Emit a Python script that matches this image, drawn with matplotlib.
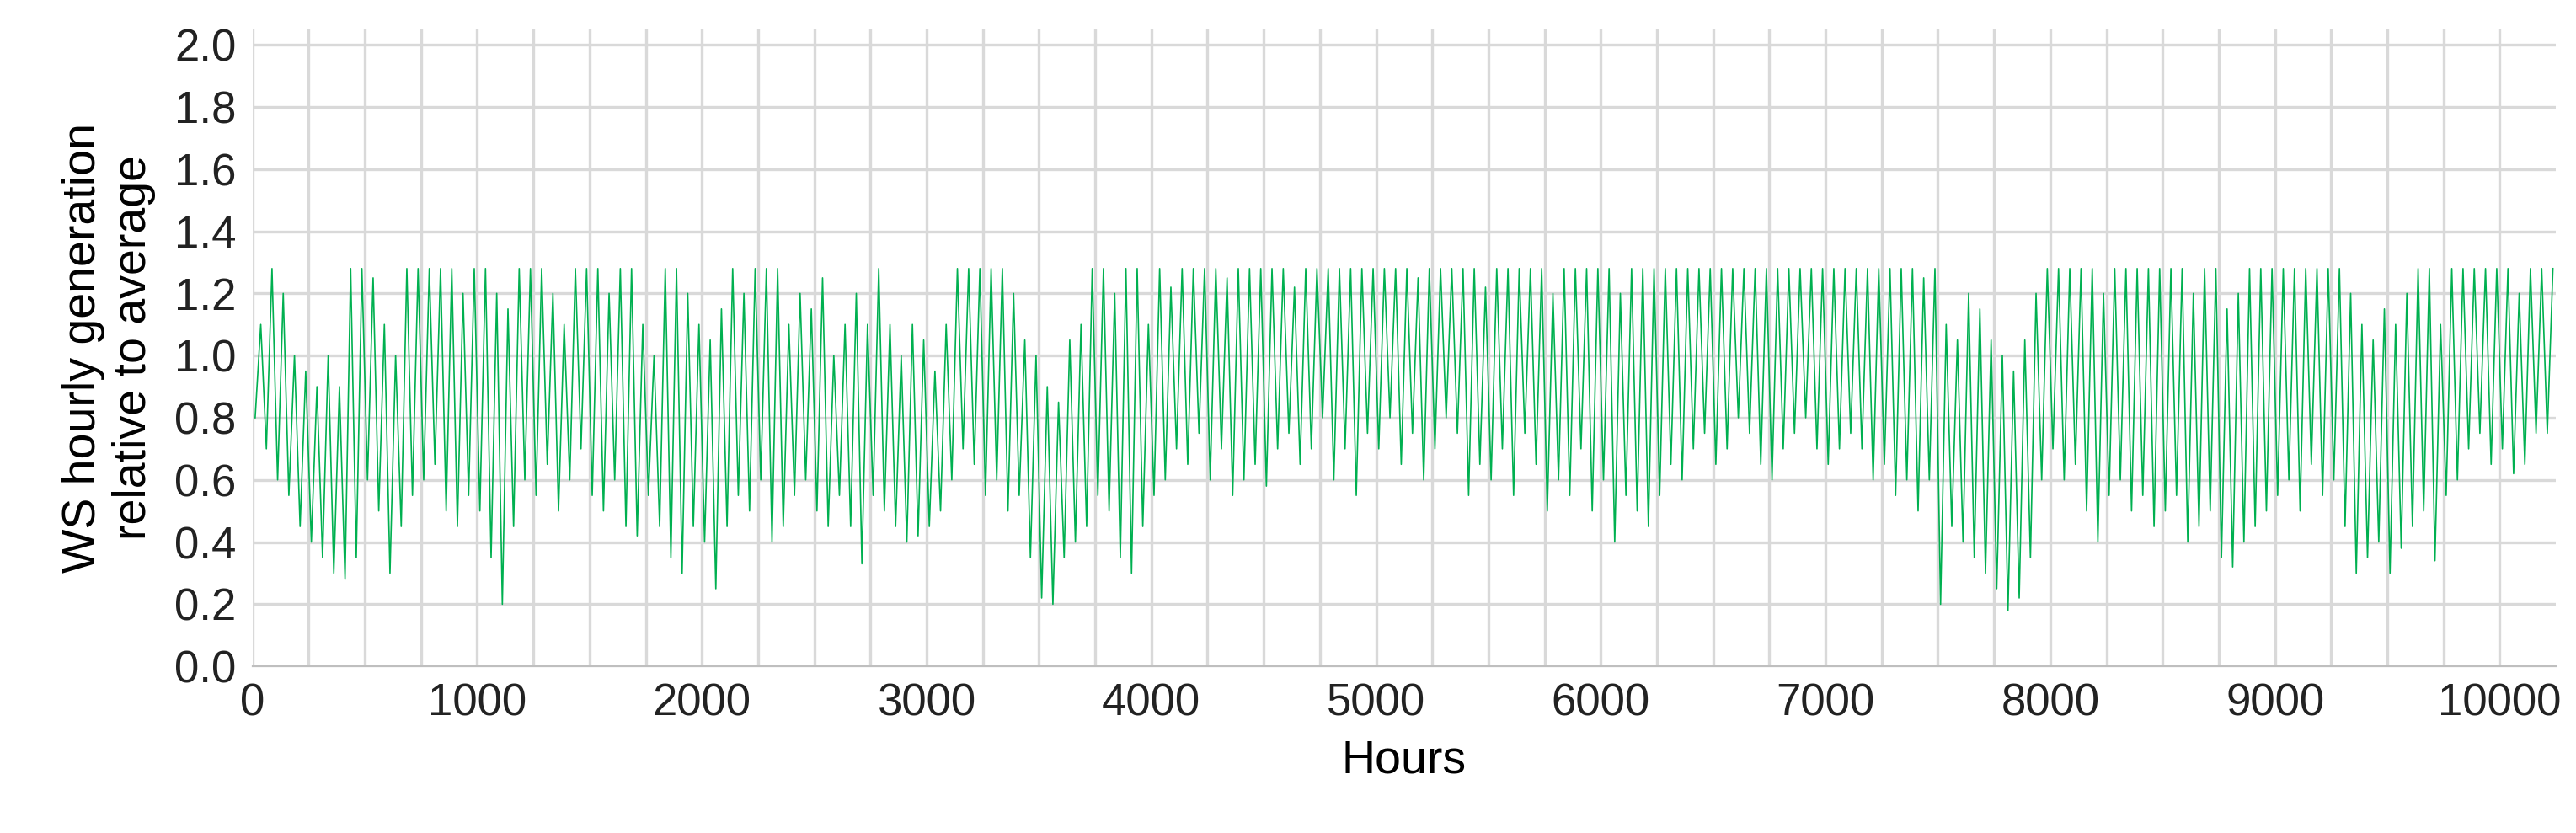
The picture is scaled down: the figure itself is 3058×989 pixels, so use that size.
import matplotlib
matplotlib.use("Agg")
import matplotlib.pyplot as plt
import numpy as np

# daily-ish troughs and peaks, one pair per 50-hour block
block_hours = 50
lows = [
    0.80, 0.70, 0.60, 0.55, 0.45, 0.40, 0.35, 0.30, 0.28, 0.35, 0.60, 0.50, 0.30, 0.45, 0.55, 0.60, 0.65, 0.50, 0.45, 0.55,
    0.50, 0.35, 0.20, 0.45, 0.60, 0.55, 0.65, 0.50, 0.60, 0.70, 0.55, 0.50, 0.60, 0.45, 0.42, 0.55, 0.45, 0.35, 0.30, 0.45,
    0.40, 0.25, 0.45, 0.55, 0.50, 0.60, 0.40, 0.45, 0.55, 0.60, 0.50, 0.45, 0.55, 0.45, 0.33, 0.55, 0.50, 0.45, 0.40, 0.42,
    0.45, 0.50, 0.60, 0.70, 0.65, 0.55, 0.60, 0.50, 0.55, 0.35, 0.22, 0.20, 0.35, 0.40, 0.45, 0.55, 0.50, 0.35, 0.30, 0.45,
    0.55, 0.60, 0.70, 0.65, 0.75, 0.60, 0.70, 0.55, 0.60, 0.65, 0.58, 0.70, 0.75, 0.65, 0.70, 0.80, 0.60, 0.70, 0.55, 0.75,
    0.70, 0.80, 0.65, 0.75, 0.60, 0.70, 0.80, 0.75, 0.55, 0.65, 0.60, 0.70, 0.55, 0.75, 0.65, 0.50, 0.60, 0.55, 0.70, 0.50,
    0.60, 0.40, 0.55, 0.50, 0.45, 0.55, 0.65, 0.60, 0.70, 0.75, 0.65, 0.70, 0.80, 0.75, 0.65, 0.60, 0.70, 0.75, 0.80, 0.70,
    0.65, 0.70, 0.75, 0.70, 0.60, 0.65, 0.55, 0.60, 0.50, 0.60, 0.20, 0.45, 0.40, 0.35, 0.30, 0.25, 0.18, 0.22, 0.35, 0.60,
    0.70, 0.60, 0.65, 0.50, 0.40, 0.55, 0.60, 0.50, 0.55, 0.45, 0.50, 0.55, 0.40, 0.45, 0.50, 0.35, 0.32, 0.40, 0.45, 0.50,
    0.55, 0.60, 0.50, 0.65, 0.55, 0.60, 0.45, 0.30, 0.35, 0.40, 0.30, 0.38, 0.45, 0.50, 0.34, 0.55, 0.60, 0.70, 0.75, 0.65,
    0.70, 0.62, 0.65, 0.75, 0.75,
]
highs = [
    1.10, 1.28, 1.20, 1.00, 0.95, 0.90, 1.00, 0.90, 1.28, 1.28, 1.25, 1.10, 1.00, 1.28, 1.28, 1.28, 1.28, 1.28, 1.20, 1.28,
    1.28, 1.20, 1.15, 1.28, 1.28, 1.28, 1.20, 1.10, 1.28, 1.28, 1.28, 1.20, 1.28, 1.28, 1.10, 1.00, 1.28, 1.28, 1.20, 1.10,
    1.05, 1.15, 1.28, 1.20, 1.28, 1.28, 1.28, 1.10, 1.20, 1.15, 1.25, 1.00, 1.10, 1.20, 1.10, 1.28, 1.10, 1.00, 1.10, 1.05,
    0.95, 1.10, 1.28, 1.28, 1.28, 1.28, 1.28, 1.20, 1.05, 1.00, 0.90, 0.85, 1.05, 1.10, 1.28, 1.28, 1.20, 1.28, 1.28, 1.10,
    1.28, 1.22, 1.28, 1.28, 1.28, 1.28, 1.25, 1.28, 1.28, 1.28, 1.28, 1.28, 1.22, 1.28, 1.28, 1.28, 1.28, 1.28, 1.28, 1.28,
    1.28, 1.28, 1.28, 1.25, 1.28, 1.28, 1.28, 1.28, 1.28, 1.22, 1.28, 1.28, 1.28, 1.28, 1.28, 1.20, 1.28, 1.28, 1.28, 1.28,
    1.28, 1.20, 1.28, 1.28, 1.28, 1.28, 1.28, 1.28, 1.28, 1.28, 1.28, 1.28, 1.28, 1.28, 1.28, 1.28, 1.28, 1.28, 1.28, 1.28,
    1.28, 1.28, 1.28, 1.28, 1.28, 1.28, 1.28, 1.28, 1.25, 1.28, 1.10, 1.05, 1.20, 1.15, 1.05, 1.00, 0.95, 1.05, 1.20, 1.28,
    1.28, 1.28, 1.28, 1.28, 1.20, 1.28, 1.28, 1.28, 1.28, 1.28, 1.28, 1.28, 1.20, 1.28, 1.28, 1.15, 1.20, 1.28, 1.28, 1.28,
    1.28, 1.28, 1.28, 1.28, 1.28, 1.28, 1.20, 1.10, 1.05, 1.15, 1.10, 1.20, 1.28, 1.28, 1.10, 1.28, 1.28, 1.28, 1.28, 1.28,
    1.28, 1.20, 1.28, 1.28, 1.28,
]

x_max = 10248

xs, ys = [], []
for i, (lo, hi) in enumerate(zip(lows, highs)):
    xs += [i * block_hours + 12, i * block_hours + 37]
    ys += [lo, hi]

plt.rcParams["font.family"] = ["Liberation Sans", "DejaVu Sans"]
fig = plt.figure(figsize=(15.29, 4.945), dpi=200)
ax = fig.add_axes([0.098, 0.2, 0.894, 0.765])

ax.plot(xs, ys, color="#00b050", lw=0.6)

ax.set_xlim(0, x_max)
ax.set_ylim(0, 2.05)
ax.set_xticks(np.arange(0, 10001, 1000))
ax.set_xticks(np.arange(0, x_max, 250), minor=True)
ax.set_yticks(np.arange(0, 2.01, 0.2))
ax.set_yticklabels([f"{v:.1f}" for v in np.arange(0, 2.01, 0.2)])
ax.grid(which="both", color="#d9d9d9", lw=1.2)
ax.set_axisbelow(True)
ax.tick_params(which="both", length=0, labelsize=19, colors="#222222", pad=7)
for name, s in ax.spines.items():
    s.set_visible(name == "bottom")
ax.spines["bottom"].set_color("#bfbfbf")

ax.set_xlabel("Hours", fontsize=20, labelpad=6)
ax.set_ylabel("WS hourly generation\nrelative to average", fontsize=20, labelpad=8)

fig.savefig("out.png")
